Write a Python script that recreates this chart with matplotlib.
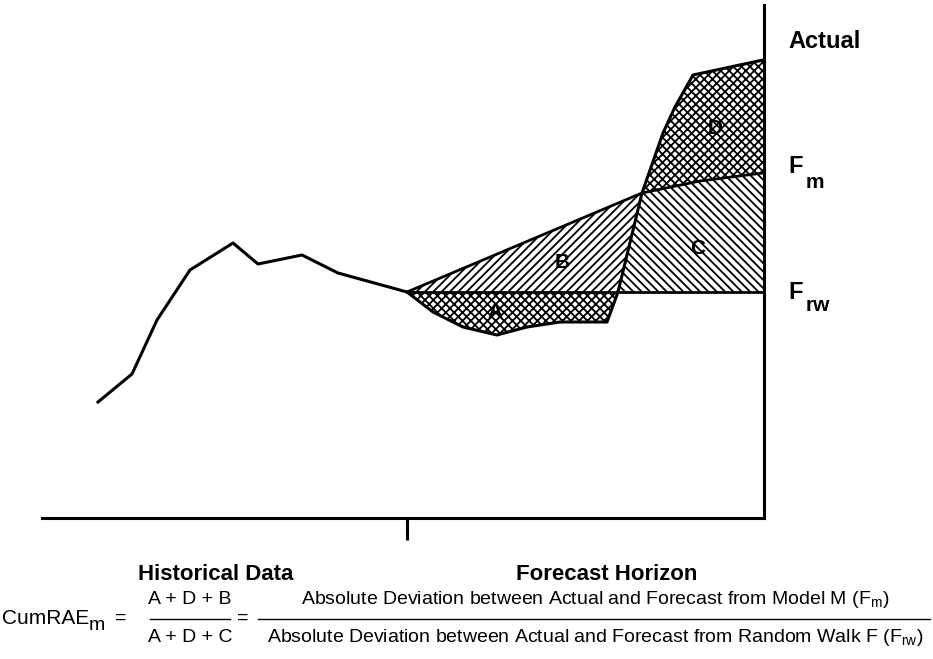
import numpy as np
import matplotlib
matplotlib.use('Agg')
import matplotlib.pyplot as plt
from matplotlib.lines import Line2D

# historical data (t = time, y = level above the baseline)
hist_t = [56, 90, 115, 148, 191, 216, 260, 296, 365]
hist_y = [116, 144, 198, 248, 275, 254, 263, 245, 226]

# forecast horizon: actual values and model forecast F_m
act_t = [365, 391, 421, 455, 485, 518, 565, 576, 600, 621, 633, 651, 721]
act_y = [226, 206, 191, 183, 191, 196, 196, 226, 325, 385, 411, 443, 458]
fm_t = [365, 600, 658, 721]
fm_y = [226, 325, 337, 345]
frw_level = 226          # random walk forecast = last observed value
origin_t = 365
end_t = 721

area_labels = ['A', 'B', 'C', 'D']
area_pos = [(453, 205), (520, 255), (656, 270), (673, 390)]

W, H = 933, 659
FONT = ['Liberation Sans', 'DejaVu Sans']

plt.rcParams['hatch.linewidth'] = 1.3
plt.rcParams['mathtext.fontset'] = 'custom'
plt.rcParams['mathtext.rm'] = 'Liberation Sans'
plt.rcParams['mathtext.it'] = 'Liberation Sans'
plt.rcParams['font.family'] = FONT


def fx(x):
    return x / W


def fy(y):
    return 1 - y / H


fig = plt.figure(figsize=(W / 100, H / 100), dpi=100)
ax = fig.add_axes([fx(42), fy(518), (764 - 42) / W, (518 - 5) / H])
ax.set_xlim(0, 722)
ax.set_ylim(0, 513)
for s in ['left', 'top']:
    ax.spines[s].set_visible(False)
for s in ['bottom', 'right']:
    ax.spines[s].set_linewidth(2.2)
ax.set_xticks([origin_t])
ax.set_xticklabels([])
ax.set_yticks([])
ax.tick_params(axis='x', direction='out', length=16, width=2.2)

# shaded areas
xg = np.union1d(act_t, fm_t)
ag = np.interp(xg, act_t, act_y)
fg = np.interp(xg, fm_t, fm_y)
rw = np.full_like(xg, frw_level, dtype=float)

kw = dict(facecolor='white', edgecolor='black', linewidth=0, interpolate=True)
ax.fill_between(xg, ag, rw, where=ag <= rw, hatch='xxxx', **kw)
ax.fill_between(xg, np.maximum(ag, rw), fg, where=ag <= fg, hatch='////', **kw)
ax.fill_between(xg, rw, np.minimum(ag, fg), where=ag >= rw, hatch='\\\\\\\\', **kw)
ax.fill_between(xg, fg, ag, where=ag >= fg, hatch='xxxx', **kw)

# lines
ax.plot(hist_t + act_t[1:], hist_y + act_y[1:], color='black', lw=2.2,
        solid_joinstyle='round', clip_on=False)
ax.plot(fm_t, fm_y, color='black', lw=2.0)
ax.plot([origin_t, end_t], [frw_level, frw_level], color='black', lw=2.0)

for lab, (x, y) in zip(area_labels, area_pos):
    ax.text(x, y, lab, ha='center', va='center', fontsize=15, fontweight='bold')

# right side labels
fig.text(fx(788), fy(42), 'Actual', ha='left', va='center', fontsize=17, fontweight='bold')
fig.text(fx(788), fy(167), 'F', ha='left', va='center', fontsize=17, fontweight='bold')
fig.text(fx(806), fy(182), 'm', ha='left', va='center', fontsize=15, fontweight='bold')
fig.text(fx(788), fy(293), 'F', ha='left', va='center', fontsize=17, fontweight='bold')
fig.text(fx(806), fy(306), 'rw', ha='left', va='center', fontsize=15, fontweight='bold')

# bottom labels
fig.text(fx(216), fy(575), 'Historical Data', ha='center', va='center',
         fontsize=16, fontweight='bold')
fig.text(fx(607), fy(575), 'Forecast Horizon', ha='center', va='center',
         fontsize=16, fontweight='bold')

# formula
fs = 14
fig.text(fx(2), fy(618), 'CumRAE', ha='left', va='center', fontsize=15)
fig.text(fx(89), fy(626), 'm', ha='left', va='center', fontsize=14)
fig.text(fx(121), fy(618), '=', ha='center', va='center', fontsize=fs)
fig.text(fx(190), fy(600), 'A + D + B', ha='center', va='center', fontsize=fs)
fig.text(fx(190), fy(638), 'A + D + C', ha='center', va='center', fontsize=fs)
fig.text(fx(243), fy(618), '=', ha='center', va='center', fontsize=fs)
fig.text(fx(595), fy(600),
         r'Absolute Deviation between Actual and Forecast from Model M (F$_{\mathrm{m}}$)',
         ha='center', va='center', fontsize=fs)
fig.text(fx(595), fy(638),
         r'Absolute Deviation between Actual and Forecast from Random Walk F (F$_{\mathrm{rw}}$)',
         ha='center', va='center', fontsize=fs)
fig.add_artist(Line2D([fx(150), fx(230)], [fy(619), fy(619)], color='black', lw=1.0))
fig.add_artist(Line2D([fx(258), fx(930)], [fy(619), fy(619)], color='black', lw=1.0))

fig.savefig('out.png', dpi=100, facecolor='white')
